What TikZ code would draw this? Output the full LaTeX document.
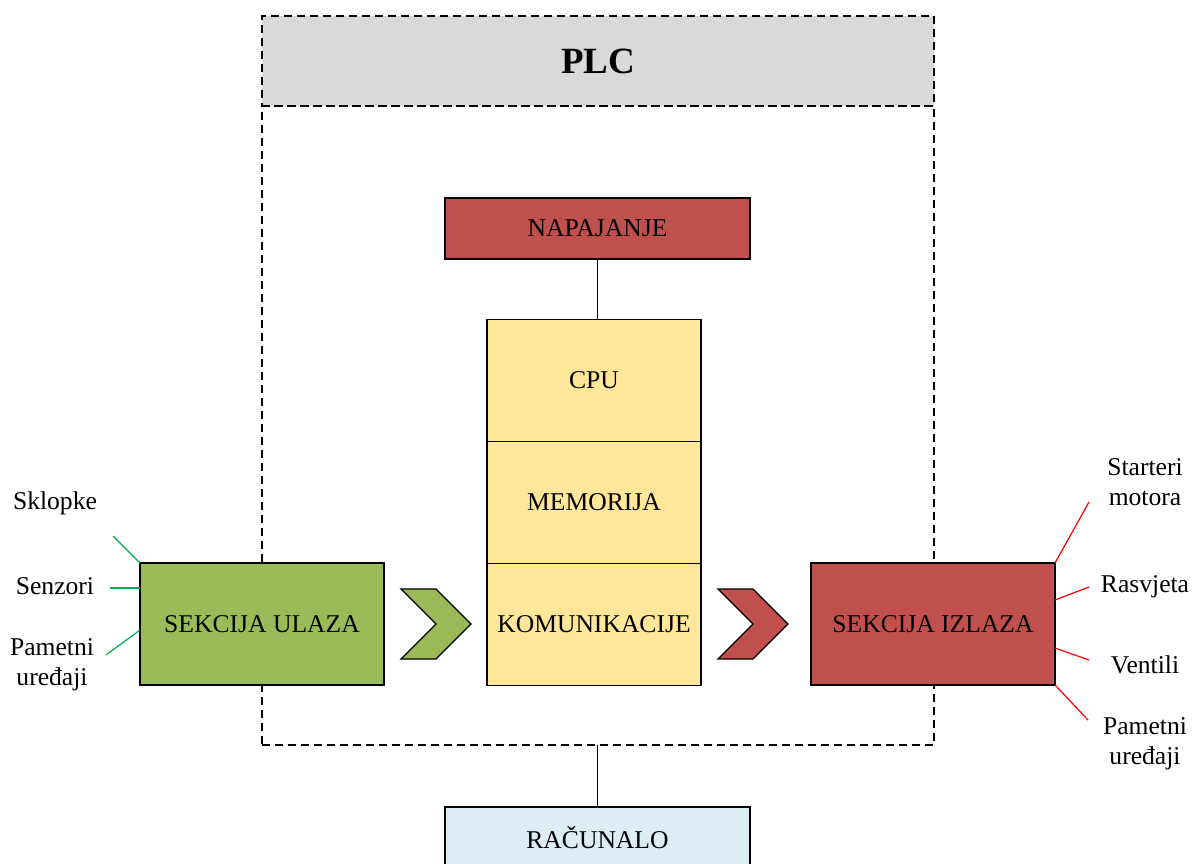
\documentclass[tikz,border=0pt]{standalone}
\usepackage{fontspec}
\setmainfont{Liberation Serif}
\definecolor{plcgray}{HTML}{D9D9D9}
\definecolor{ulazgreen}{HTML}{9BBB59}
\definecolor{izlazred}{HTML}{C0504D}
\definecolor{cpuyellow}{HTML}{FFE699}
\definecolor{pcblue}{HTML}{DAEEF3}
\definecolor{ulazline}{HTML}{00B050}
\tikzset{
	block/.style={draw,line width=0.6pt,inner sep=0pt,outer sep=0pt,align=center},
	plcframe/.style={draw,dashed,dash pattern=on 4pt off 2.5pt,line width=0.6pt,inner sep=0pt,outer sep=0pt},
	chevron/.style={draw,line width=0.6pt,line join=miter},
	greenwire/.style={ulazline,line width=0.6pt},
	redwire/.style={red,line width=0.6pt},
	label/.style={align=center,inner sep=0pt}
}
\begin{document}
\begin{tikzpicture}[x=0.5pt,y=-0.5pt,font=\fontsize{12.8}{15}\selectfont]
	\useasboundingbox (0,0) rectangle (1198,863);
	\clip (0,0) rectangle (1198,863);
	% PLC frame
	\node[plcframe,fill=plcgray,minimum width=336pt,minimum height=45pt] (plchead) at (598,61)
		{\fontsize{18.5}{20}\selectfont\bfseries PLC};
	\node[plcframe,minimum width=336pt,minimum height=319.5pt] (plc) at (598,425.5) {};
	% blocks
	\node[block,fill=izlazred,minimum width=152.5pt,minimum height=30.5pt] (napajanje) at (597.5,228.5) {NAPAJANJE};
	\node[block,fill=cpuyellow,minimum width=107pt,minimum height=61pt] (cpu) at (594,380.5) {CPU};
	\node[block,fill=cpuyellow,minimum width=107pt,minimum height=61pt,anchor=north] (memorija) at (cpu.south) {MEMORIJA};
	\node[block,fill=cpuyellow,minimum width=107pt,minimum height=61pt,anchor=north] (komunikacije) at (memorija.south) {KOMUNIKACIJE};
	\node[block,fill=ulazgreen,minimum width=122pt,minimum height=61pt] (ulaz) at (262,624) {SEKCIJA ULAZA};
	\node[block,fill=izlazred,minimum width=122pt,minimum height=61pt] (izlaz) at (933,624) {SEKCIJA IZLAZA};
	\node[block,fill=pcblue,minimum width=152.5pt,minimum height=31pt] (racunalo) at (597.5,838) {RAČUNALO};
	% links
	\draw[line width=0.6pt] (napajanje.south) -- (napajanje.south |- cpu.north);
	\draw[line width=0.6pt] (racunalo.north |- plc.south) -- (racunalo.north);
	% arrows
	\draw[chevron,fill=ulazgreen] (401,589) -- ++(35,0) -- ++(35,35) -- ++(-35,35) -- ++(-35,0) -- ++(35,-35) -- cycle;
	\draw[chevron,fill=izlazred] (718,589) -- ++(35,0) -- ++(35,35) -- ++(-35,35) -- ++(-35,0) -- ++(35,-35) -- cycle;
	% inputs
	\node[label] (sklopke) at (55,503) {Sklopke};
	\node[label] (senzori) at (55,586) {Senzori};
	\node[label] (pametniul) at (52,665) {Pametni\\uređaji};
	\coordinate (w1) at (113,536);
	\coordinate (w2) at (110,588);
	\coordinate (w3) at (106,655);
	\coordinate (u3) at (140,630);
	\draw[greenwire] (w1) -- (ulaz.north west);
	\draw[greenwire] (w2) -- (w2 -| ulaz.west);
	\draw[greenwire] (w3) -- (u3);
	% outputs
	\node[label] (starteri) at (1145,482) {Starteri\\motora};
	\node[label] (rasvjeta) at (1145,587) {Rasvjeta};
	\node[label] (ventili) at (1145,665) {Ventili};
	\node[label] (pametniiz) at (1145,744) {Pametni\\uređaji};
	\coordinate (r1) at (1089,502);
	\coordinate (r2) at (1089,587);
	\coordinate (r3) at (1089,660);
	\coordinate (r4) at (1088,720);
	\coordinate (i2) at (1055,600);
	\coordinate (i3) at (1055,648);
	\draw[redwire] (izlaz.north east) -- (r1);
	\draw[redwire] (i2) -- (r2);
	\draw[redwire] (i3) -- (r3);
	\draw[redwire] (izlaz.south east) -- (r4);
\end{tikzpicture}
\end{document}
